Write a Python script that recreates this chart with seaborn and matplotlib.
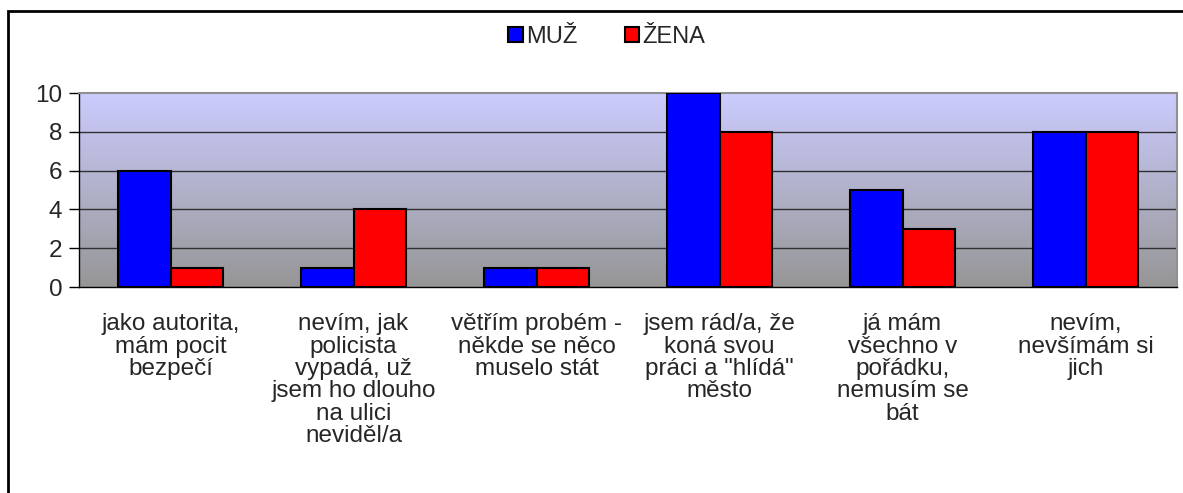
import numpy as np
import pandas as pd
import matplotlib
matplotlib.use('Agg')
import matplotlib.pyplot as plt
import seaborn as sns
from matplotlib.colors import LinearSegmentedColormap
from matplotlib.patches import Rectangle

# data
categories = [
    'jako autorita,\nmám pocit\nbezpečí',
    'nevím, jak\npolicista\nvypadá, už\njsem ho dlouho\nna ulici\nneviděl/a',
    'větřím probém -\nněkde se něco\nmuselo stát',
    'jsem rád/a, že\nkoná svou\npráci a "hlídá"\nměsto',
    'já mám\nvšechno v\npořádku,\nnemusím se\nbát',
    'nevím,\nnevšímám si\njich',
]
muz = [6, 1, 1, 10, 5, 8]
zena = [1, 4, 1, 8, 3, 8]
series = ['MUŽ', 'ŽENA']

df = pd.DataFrame({
    'kategorie': categories * 2,
    'pohlavi': [series[0]] * 6 + [series[1]] * 6,
    'pocet': muz + zena,
})

sns.set_style('white')
plt.rcParams['font.family'] = ['Liberation Sans', 'DejaVu Sans']

fs = 17.5

fig = plt.figure(figsize=(11.83, 4.93), dpi=100)
ax = fig.add_axes([79 / 1183, 1 - 287 / 493, (1177 - 79) / 1183, (287 - 93) / 493])

# pozadi s prechodem
cmap = LinearSegmentedColormap.from_list('bg', ['#969696', '#CCCCFF'])
grad = np.linspace(0, 1, 256).reshape(-1, 1)
ax.imshow(grad, cmap=cmap, aspect='auto', origin='lower',
          extent=[0, 1, 0, 1], transform=ax.transAxes, zorder=0)

sns.barplot(data=df, x='kategorie', y='pocet', hue='pohlavi',
            palette={'MUŽ': '#0000FF', 'ŽENA': '#FF0000'},
            width=0.57, edgecolor='black', linewidth=1.5,
            saturation=1, ax=ax, zorder=3)

ax.set_xlim(-0.5, 5.5)
ax.set_ylim(0, 10)
ax.set_yticks([0, 2, 4, 6, 8, 10])
for y in [2, 4, 6, 8]:
    ax.axhline(y, color='#303030', lw=1, zorder=1)
ax.set_xlabel('')
ax.set_ylabel('')

ax.set_xticks(np.arange(6))
ax.set_xticklabels(categories, fontsize=fs, linespacing=1.02)
ax.set_xticks(np.arange(-0.5, 6, 1), minor=True)
ax.tick_params(axis='x', which='major', length=0, pad=19)
ax.tick_params(axis='x', which='minor', length=6, width=1, color='black', direction='out')
ax.tick_params(axis='y', length=7, width=1, color='black', direction='out',
               labelsize=fs, pad=5, left=True)

for s in ['left', 'bottom']:
    ax.spines[s].set_color('black')
    ax.spines[s].set_linewidth(1)
for s in ['top', 'right']:
    ax.spines[s].set_color('#909090')
    ax.spines[s].set_linewidth(1.5)

handles, labels = ax.get_legend_handles_labels()
ax.legend_.remove()
fig.legend(handles, labels, loc='center', bbox_to_anchor=(0.513, 0.925),
           ncol=2, frameon=False, fontsize=17, handlelength=0.6,
           handleheight=0.6, handletextpad=0.15, columnspacing=2.0)

# ramecek kolem grafu
fig.patches.append(Rectangle((8 / 1183, -0.1), 1.5, 1.1 - 11 / 493,
                             transform=fig.transFigure, fill=False,
                             edgecolor='black', lw=2))

fig.savefig('out.png', dpi=100, facecolor='white')
